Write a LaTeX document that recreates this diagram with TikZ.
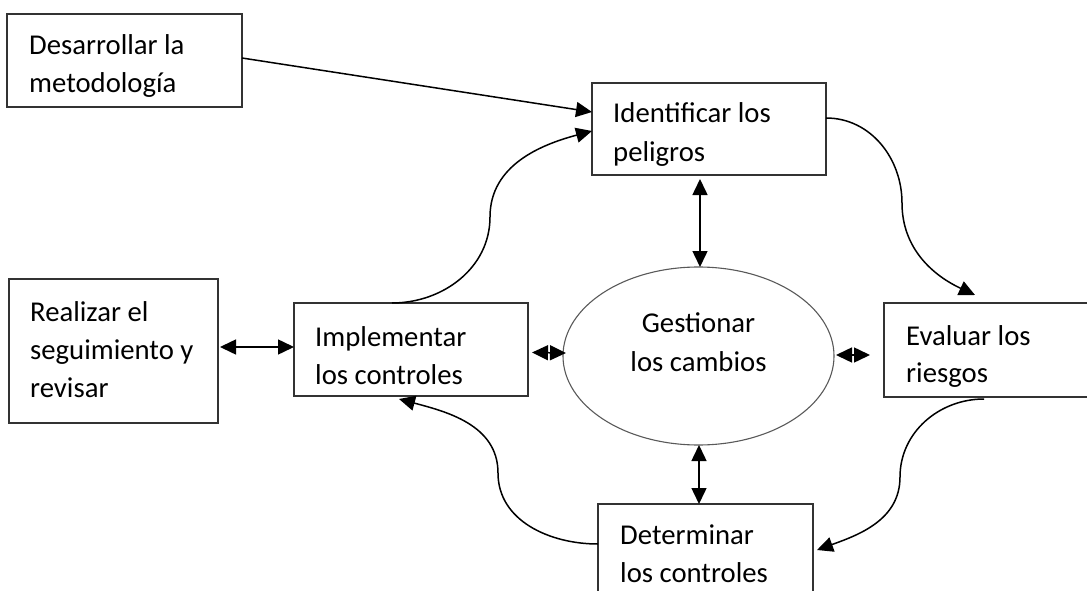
\documentclass[tikz,border=0pt]{standalone}
\usepackage{fontspec}
\setmainfont{Carlito}
\usetikzlibrary{arrows.meta,shapes.geometric}

\tikzset{
  x=1pt, y=1pt,
  stepbox/.style={draw=black!80, line width=1.2pt, fill=white, inner sep=0pt, outer sep=0pt},
  hub/.style={draw=black!65, line width=1.1pt, ellipse, inner sep=0pt, outer sep=0pt,
              minimum width=271pt, minimum height=178pt},
  txt/.style={anchor=base west, inner sep=0pt, font=\fontsize{28.7}{38}\selectfont},
  ctxt/.style={anchor=base, inner sep=0pt, font=\fontsize{28.7}{38}\selectfont},
  tip/.tip={Triangle[length=16pt,width=15pt]},
  conn/.style={line width=1.5pt, -tip},
  dconn/.style={line width=1.5pt, tip-tip},
}

\begin{document}
\begin{tikzpicture}
\useasboundingbox (0,0) rectangle (1087,-591);
\clip (0,0) rectangle (1087,-591);

% process boxes
\node[stepbox, minimum width=235pt, minimum height=93pt] (des)   at (124.5,-60.5) {};
\node[stepbox, minimum width=234pt, minimum height=92pt] (ident) at (709,-129) {};
\node[stepbox, minimum width=209pt, minimum height=144pt] (real) at (113.5,-351) {};
\node[stepbox, minimum width=234pt, minimum height=93pt] (impl)  at (411,-349.5) {};
\node[stepbox, minimum width=234pt, minimum height=94pt] (eval)  at (1001,-350) {};
\node[stepbox, minimum width=215pt, minimum height=94pt] (det)   at (705.5,-551) {};
\node[hub] (ges) at (698.5,-356) {};

% labels
\node[txt] (desA) at (29,-55) {Desarrollar la};
\node[txt] (desB) at (29,-93) {metodología};
\node[txt] (idA) at (613,-123) {Identificar los};
\node[txt] (idB) at (613,-161) {peligros};
\node[txt] (reA) at (30,-321) {Realizar el};
\node[txt] (reB) at (30,-359) {seguimiento y};
\node[txt] (reC) at (30,-397) {revisar};
\node[txt] (imA) at (315,-346) {Implementar};
\node[txt] (imB) at (315,-384) {los controles};
\node[txt] (evA) at (906,-345) {Evaluar los};
\node[txt] (evB) at (906,-382) {riesgos};
\node[txt] (deA) at (620,-544) {Determinar};
\node[txt] (deB) at (620,-582) {los controles};
\node[ctxt] (geA) at (698.5,-332) {Gestionar};
\node[ctxt] (geB) at (698.5,-371) {los cambios};

% straight input
\draw[conn] (des.east |- 0,-58) -- ([yshift=17pt]ident.west);

% cycle of curved connectors
\draw[conn] ([xshift=98pt]impl.north west)
  to[out=0,in=-90] (490,-217) to[out=90,in=195] ([yshift=-2pt]ident.west);
\draw[conn] ([yshift=11pt]ident.east)
  to[out=0,in=90] (902,-203) to[out=-90,in=155] ([xshift=91pt,yshift=8pt]eval.north west);
\draw[conn] ([xshift=100pt,yshift=-2pt]eval.south west)
  to[out=180,in=90] (900,-477) to[out=-90,in=20] ([xshift=4pt,yshift=1pt]det.east);
\draw[conn] ([yshift=7pt]det.west)
  to[out=180,in=-90] (498,-473) to[out=90,in=-15] ([xshift=105pt,yshift=-3pt]impl.south west);

% two-way links with the hub
\draw[dconn] ([xshift=-9pt,yshift=-4pt]ident.south) -- ([xshift=1.5pt]ges.north);
\draw[dconn] ([xshift=0.5pt]ges.south) -- ([xshift=-6.5pt]det.north);
\draw[dconn] ([xshift=4pt,yshift=-3pt]impl.east) -- ([xshift=3pt,yshift=3pt]ges.west);
\draw[dconn] ([xshift=2pt,yshift=1pt]ges.east) -- ([xshift=-14pt,yshift=-5pt]eval.west);
\draw[dconn] ([xshift=2pt,yshift=4pt]real.east) -- ([yshift=2.5pt]impl.west);
\end{tikzpicture}
\end{document}
